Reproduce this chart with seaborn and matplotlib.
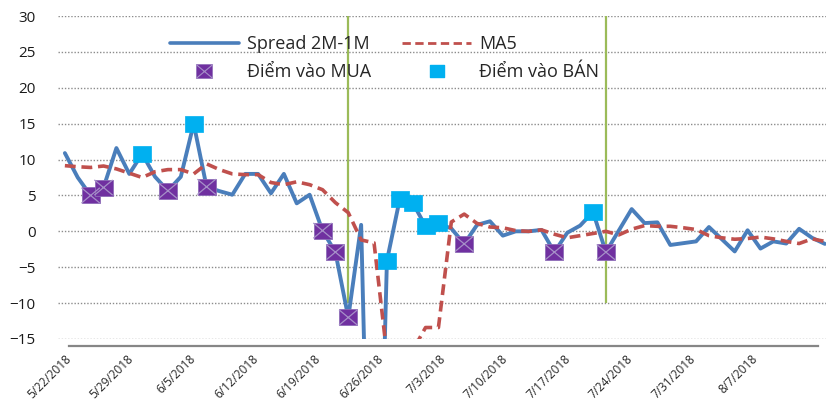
import numpy as np
import pandas as pd
import seaborn as sns
import matplotlib.pyplot as plt
import matplotlib.dates as mdates
from matplotlib.lines import Line2D
from matplotlib.path import Path

# values (one per trading session)
spread = [10.9, 7.5, 5.0, 6.1, 11.6, 8.0, 10.8, 7.6, 5.65, 7.6,
          15.0, 6.2, 5.6, 5.1, 8.0, 8.0, 5.3, 8.0, 3.9, 5.1,
          0.1, -2.9, -12.0, 0.9, -72.0, -4.1, 4.5, 4.0, 0.7, 1.1,
          0.4, -1.75, 0.9, 1.4, -0.6, 0.0, 0.0, 0.2, -2.9, -0.2,
          0.8, 2.7, -2.9, 0.1, 3.1, 1.15, 1.25, -1.9, -1.65, -1.4,
          0.6, -1.1, -2.8, 0.15, -2.4, -1.4, -1.7, 0.35, -0.9, -1.75]
ma5 = [9.15, 9.0, 8.9, 9.1, 8.7, 8.1, 7.5, 8.3, 8.6, 8.6,
       8.0, 9.4, 8.6, 8.0, 7.9, 7.9, 6.8, 6.5, 6.9, 6.5,
       5.8, 4.0, 2.6, -1.2, -1.6, -17.2, -18.1, -16.6, -13.4, -13.4,
       1.3, 2.4, 1.1, 0.6, 0.5, 0.1, 0.0, 0.2, -0.4, -0.9,
       -0.6, -0.3, 0.0, -0.5, 0.3, 0.8, 0.7, 0.7, 0.5, 0.25,
       -0.6, -0.9, -1.1, -1.0, -0.8, -1.05, -1.4, -1.7, -1.05, -1.4]
buy_idx = [2, 3, 8, 11, 20, 21, 22, 31, 38, 42]
sell_idx = [6, 10, 25, 26, 27, 28, 29, 41]
signal_idx = [22, 42]
signal_range = [-10, 30]

tick_dates = pd.date_range('2018-05-22', '2018-08-14', freq='7D')
tick_labels = [f"{d.month}/{d.day}/{d.year}" for d in tick_dates[:-1]] + ['']

# sessions are evenly spaced along the axis
dates = pd.date_range('2018-05-21 13:00', '2018-08-14 18:00', periods=len(spread))
df = pd.DataFrame({'date': dates, 'spread': spread, 'ma5': ma5})

sns.set_style('white')
plt.rcParams['font.family'] = ['Open Sans', 'DejaVu Sans']

BLUE = '#4A7EBB'
RED = '#C0504D'
PURPLE = '#7030A0'
XCOL = '#A690C8'
CYAN = '#00B0F0'
GREEN = '#9BBB59'
DASH = (0, (3.0, 1.6))

fig = plt.figure(figsize=(8.26, 4.07), dpi=100)
ax = fig.add_axes([58 / 826, 68 / 407, 768 / 826, 323 / 407])

rect = Path([(-0.6, -0.5), (0.6, -0.5), (0.6, 0.5), (-0.6, 0.5), (-0.6, -0.5)],
            [Path.MOVETO, Path.LINETO, Path.LINETO, Path.LINETO, Path.CLOSEPOLY])
cross = Path([(-0.6, -0.5), (0.6, 0.5), (-0.6, 0.5), (0.6, -0.5)],
             [Path.MOVETO, Path.LINETO, Path.MOVETO, Path.LINETO])

ax.vlines(dates[signal_idx], signal_range[0], signal_range[1], color=GREEN, lw=1.6, zorder=1)

sns.lineplot(data=df, x='date', y='spread', color=BLUE, lw=2.8, ax=ax, zorder=2)
sns.lineplot(data=df, x='date', y='ma5', color=RED, lw=2.6, ax=ax, zorder=3,
             linestyle=DASH)

buy = df.iloc[buy_idx]
sell = df.iloc[sell_idx]
sns.scatterplot(data=sell, x='date', y='spread', marker=rect, s=175, color=CYAN,
                edgecolor=CYAN, linewidth=0.5, ax=ax, zorder=4)
sns.scatterplot(data=buy, x='date', y='spread', marker=rect, s=175, color=PURPLE,
                edgecolor='#8E6CB8', linewidth=0.6, ax=ax, zorder=5)
ax.scatter(buy['date'], buy['spread'], marker=cross, s=175, facecolors='none',
           edgecolors=XCOL, linewidths=0.9, zorder=6)

ax.set_ylim(-15, 30)
ax.set_yticks(range(-15, 31, 5))
ax.set_xlim(pd.Timestamp('2018-05-20 18:30'), pd.Timestamp('2018-08-14 21:00'))
ax.set_xlabel('')
ax.set_ylabel('')
ax.grid(axis='y', color='#8C8C8C', lw=1.0, linestyle=(0, (1, 1.3)))
ax.grid(axis='x', visible=False)

for s in ['top', 'right', 'left']:
    ax.spines[s].set_visible(False)
ax.spines['bottom'].set_position(('outward', 5))
ax.spines['bottom'].set_bounds(mdates.date2num(tick_dates[0]), mdates.date2num(tick_dates[-1]))
ax.spines['bottom'].set_color('#868686')
ax.spines['bottom'].set_linewidth(1.6)
ax.tick_params(axis='x', direction='out', length=4, width=1.3, color='#868686', pad=4)
ax.tick_params(axis='y', length=0, labelsize=11, pad=16, labelcolor='#1a1a1a')

ax.set_xticks(tick_dates)
ax.set_xticklabels(tick_labels, fontsize=8.5)
plt.setp(ax.get_xticklabels(), rotation=45, ha='right', va='center',
         rotation_mode='anchor')

handles = [
    Line2D([], [], color=BLUE, lw=2.6),
    (Line2D([], [], ls='none', marker=rect, ms=12, mfc=PURPLE, mec='#8E6CB8', mew=0.5),
     Line2D([], [], ls='none', marker=cross, ms=12, mec=XCOL, mew=0.8)),
    Line2D([], [], color=RED, lw=2.0, linestyle=DASH),
    Line2D([], [], ls='none', marker=rect, ms=10, mfc=CYAN, mec=CYAN),
]
labels = ['Spread 2M-1M', 'Điểm vào MUA', 'MA5', 'Điểm vào BÁN']
fig.legend(handles, labels, ncol=2, loc='upper left',
           bbox_to_anchor=(170 / 826, 1 - 35 / 407), frameon=False, fontsize=13,
           handlelength=3.8, handletextpad=0.45, columnspacing=1.75,
           labelspacing=0.58, borderpad=0, borderaxespad=0)

fig.savefig('out.png', dpi=100)
